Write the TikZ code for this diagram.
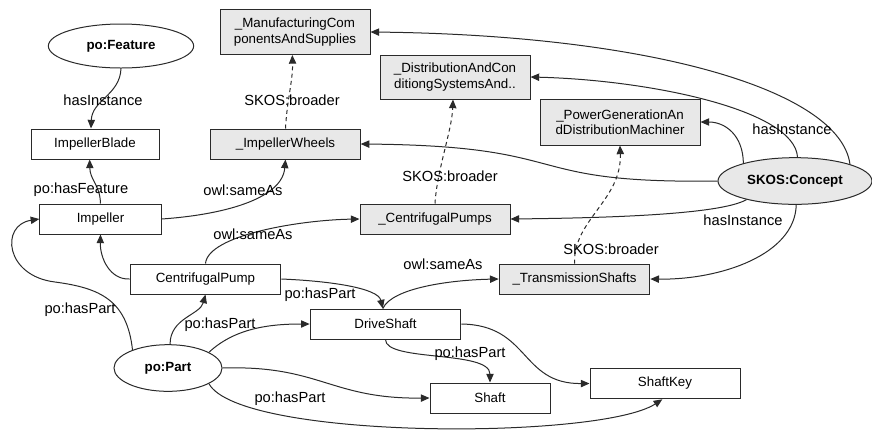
\documentclass[tikz,border=0pt]{standalone}
\usepackage{fontspec}
\setmainfont{Liberation Sans}
\usetikzlibrary{arrows.meta,shapes.geometric}

\tikzset{every picture/.style={line width=0.75pt}}
\definecolor{inkgray}{HTML}{2A2A2A}
\definecolor{boxgray}{HTML}{E8E8E8}
\tikzset{
  inst/.style={draw=inkgray, rectangle, fill=white, inner sep=0pt, minimum height=22.5pt, font=\fontsize{10}{11.5}\selectfont, align=center},
  concept/.style={inst, fill=boxgray},
  cls/.style={draw=inkgray, ellipse, fill=white, inner sep=0pt, font=\fontsize{10}{11.5}\selectfont\bfseries},
  rel/.style={draw=inkgray, -{Triangle[length=6.5pt,width=5.5pt]}},
  broader/.style={rel, dash pattern=on 3pt off 2.5pt},
  lbl/.style={inner sep=0pt, font=\fontsize{11}{13}\selectfont},
}

\begin{document}
\begin{tikzpicture}[x=0.75pt,y=0.75pt,yscale=-1,xscale=1]
	\path[use as bounding box] (0,0) rectangle (872,430);

	%Classes
	\node[cls, minimum width=109pt, minimum height=33pt] (feature) at (121,46) {po:Feature};
	\node[cls, fill=boxgray, minimum width=115.5pt, minimum height=35pt] (skos) at (795,181) {SKOS:Concept};
	\node[cls, minimum width=81pt, minimum height=35pt] (part) at (168,368) {po:Part};

	%Instances
	\node[inst, minimum width=96pt] (blade) at (95,144) {ImpellerBlade};
	\node[inst, minimum width=91pt] (impeller) at (100.5,219) {Impeller};
	\node[inst, minimum width=113pt] (pump) at (205.5,279) {CentrifugalPump};
	\node[inst, minimum width=113pt] (drive) at (385.5,324) {DriveShaft};
	\node[inst, minimum width=90pt] (shaft) at (490,398) {Shaft};
	\node[inst, minimum width=112.5pt, minimum height=23pt] (key) at (665,383.5) {ShaftKey};

	%Concepts
	\node[concept, minimum width=112.5pt, minimum height=33.75pt] (manuf) at (295,32) {\_ManufacturingCom\\ponentsAndSupplies};
	\node[concept, minimum width=112.5pt, minimum height=33pt] (distrib) at (455,77) {\_DistributionAndCon\\ditiongSystemsAnd..};
	\node[concept, minimum width=120pt, minimum height=34.5pt] (powergen) at (620,122) {\_PowerGenerationAn\\dDistributionMachiner};
	\node[concept, minimum width=112pt] (wheels) at (285.5,144) {\_ImpellerWheels};
	\node[concept, minimum width=112.5pt] (pumps) at (435,219) {\_CentrifugalPumps};
	\node[concept, minimum width=113pt] (trans) at (574.5,279) {\_TransmissionShafts};

	%Curve Lines
	\draw[rel] (feature.south) .. controls (120,95) and (92,100) .. ([xshift=-3pt]blade.north);
	\draw[rel] (impeller.north) .. controls (100,185) and (90,180) .. ([xshift=-4pt]blade.south);
	\draw[rel] (impeller.east) .. controls (220,215) and (282,200) .. (wheels.south);
	\draw[broader] (wheels.north) .. controls (287,100) and (293,80) .. ([xshift=-2pt]manuf.south);
	\draw[rel] (pump.west) .. controls (110,280) and (100,258) .. (impeller.south);
	\draw[rel] (pump.north) .. controls (208,235) and (300,220) .. (pumps.west);
	\draw[rel] (pump.east) .. controls (330,281) and (378,288) .. ([xshift=-2pt]drive.north);
	\draw[rel] ([xshift=-2pt]drive.north) .. controls (392,288) and (450,280) .. (trans.west);
	\draw[rel] (drive.south) .. controls (385,362) and (490,350) .. (shaft.north);
	\draw[rel] (drive.east) .. controls (530,325) and (520,384) .. (key.west);
	\draw[rel] (part.153) .. controls (127,300) and (100,288) .. (55,282) .. controls (5,276) and (0,225) .. (impeller.west);
	\draw[rel] (part.85) .. controls (170,318) and (200,315) .. (pump.south);
	\draw[rel] (part.21) .. controls (235,328) and (270,324) .. (drive.west);
	\draw[rel] (part.east) .. controls (320,365) and (330,399) .. (shaft.west);
	\draw[rel] (part.339) .. controls (240,440) and (600,440) .. ([xshift=-2pt]key.south);
	\draw[broader] (trans.north) .. controls (573,220) and (622,200) .. (powergen.south);
	\draw[broader] (pumps.north) .. controls (437,170) and (452,130) .. ([xshift=-1.5pt]distrib.south);
	\draw[rel] (skos.17) .. controls (840,90) and (650,35) .. (manuf.east);
	\draw[rel] (skos.84) .. controls (795,110) and (650,80) .. (distrib.east);
	\draw[rel] (skos.161) .. controls (743,135) and (725,122) .. (powergen.east);
	\draw[rel] (skos.west) .. controls (515,184) and (580,146) .. (wheels.east);
	\draw[rel] (skos.201) .. controls (720,215) and (600,218) .. (pumps.east);
	\draw[rel] (skos.273) .. controls (795,255) and (720,280) .. (trans.east);

	% Text Node
	\node[lbl] (lfeat) at (103,100) {hasInstance};
	\node[lbl] (lwheel) at (292,100) {SKOS:broader};
	\node[lbl] (lhasf) at (81,190) {po:hasFeature};
	\node[lbl] (limp) at (243,190) {owl:sameAs};
	\node[lbl] (lskos) at (792,129) {hasInstance};
	\node[lbl] (lpumps) at (450,176) {SKOS:broader};
	\node[lbl] (lskosb) at (743,220) {hasInstance};
	\node[lbl] (ltrans) at (611,249) {SKOS:broader};
	\node[lbl] (ldrive) at (443,264) {owl:sameAs};
	\node[lbl] (lpump) at (253,234) {owl:sameAs};
	\node[lbl] (lpdrive) at (320,295) {po:hasPart};
	\node[lbl] (lpimp) at (80,310) {po:hasPart};
	\node[lbl] (lppump) at (220,325) {po:hasPart};
	\node[lbl] (lpshaft) at (290,399) {po:hasPart};
	\node[lbl] (ldshaft) at (470,354) {po:hasPart};
\end{tikzpicture}
\end{document}
